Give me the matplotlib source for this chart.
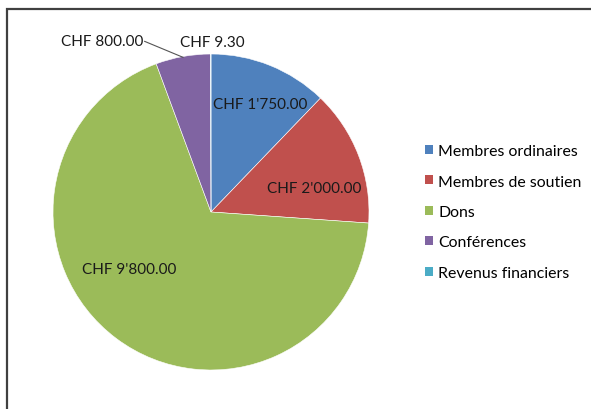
import matplotlib
matplotlib.use("Agg")
import matplotlib.pyplot as plt
from matplotlib.patches import Rectangle, Patch
import numpy as np

plt.rcParams['font.family'] = ['Lato', 'DejaVu Sans']

categories = ['Membres ordinaires', 'Membres de soutien', 'Dons', 'Conférences', 'Revenus financiers']
values = [1750.00, 2000.00, 9800.00, 800.00, 9.30]
value_labels = ["CHF 1'750.00", "CHF 2'000.00", "CHF 9'800.00", "CHF 800.00", "CHF 9.30"]
colors = ['#4F81BD', '#C0504D', '#9BBB59', '#8064A2', '#4BACC6']

W, H = 591, 410
fig = plt.figure(figsize=(W / 100, H / 100), dpi=100)

# cadre du graphique (coupé à droite et en bas comme dans l'original)
fig.patches.append(Rectangle((7 / W, -0.1), 1.2, (H - 10) / H + 0.1, transform=fig.transFigure,
                             fill=False, edgecolor='#404040', linewidth=1.6, zorder=0))

# disque : centre (211, 213), rayon 158 px
cx, cy, r = 211, 213, 158
ax = fig.add_axes([(cx - r) / W, (H - cy - r) / H, 2 * r / W, 2 * r / H])
wedges, _ = ax.pie(values, colors=colors, startangle=90, counterclock=False,
                   radius=1, wedgeprops=dict(edgecolor='white', linewidth=0.4))
ax.set_xlim(-1, 1)
ax.set_ylim(-1, 1)
ax.set_aspect('equal')
ax.axis('off')

# position des étiquettes (coord. du disque), à la façon d'Excel
label_pos = [(0.31, 0.684), (0.655, 0.152), (-0.519, -0.361), (-0.687, 1.082), (0.01, 1.076)]
for (x, y), txt in zip(label_pos, value_labels):
    ax.text(x, y, txt, ha='center', va='center', fontsize=11, color='#1a1a1a', clip_on=False)

# trait de rappel pour Conférences
w = wedges[3]
mid = np.deg2rad((w.theta1 + w.theta2) / 2)
ax.plot([-0.42, 0.995 * np.cos(mid)], [1.08, 0.995 * np.sin(mid)], color='#555555',
        linewidth=0.8, clip_on=False)

handles = [Patch(facecolor=c, edgecolor='none') for c in colors]
fig.legend(handles, categories, loc='center left', bbox_to_anchor=(417 / W, (H - 213) / H),
           frameon=False, fontsize=11.4, handlelength=0.5, handleheight=0.5,
           handletextpad=0.35, labelspacing=1.04, borderpad=0)

fig.savefig('out.png', dpi=100)
